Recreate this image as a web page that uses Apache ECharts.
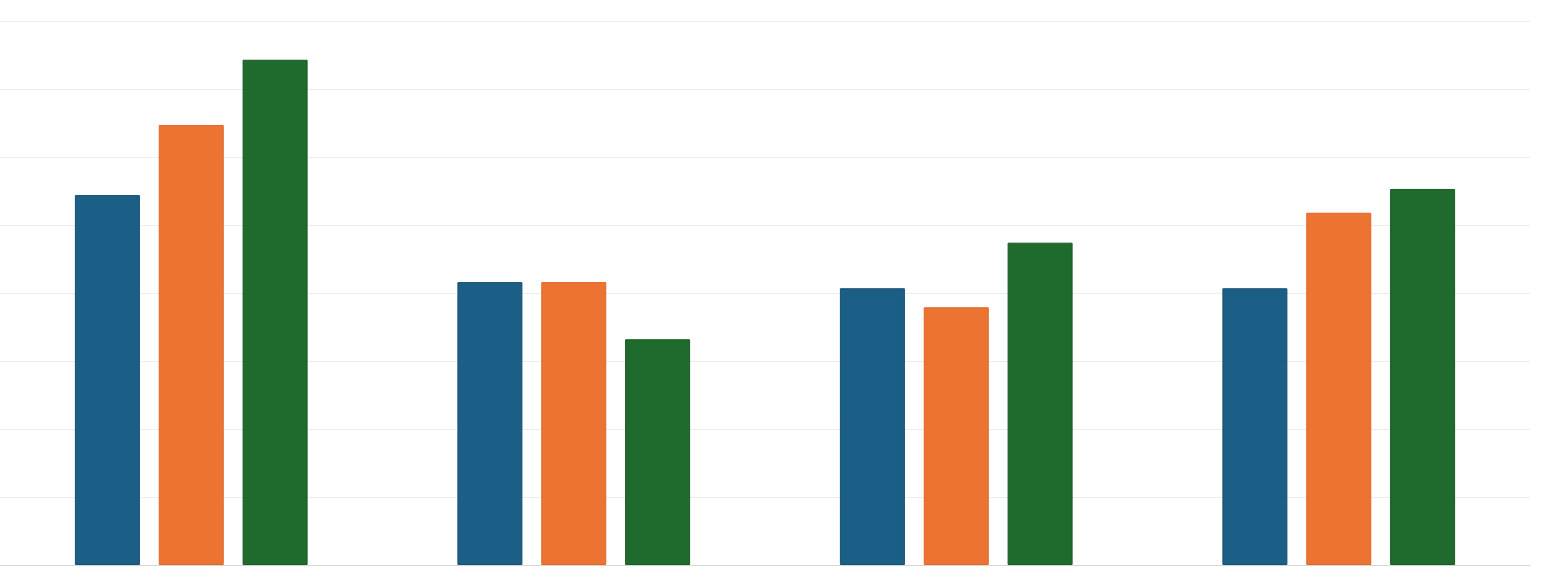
<!DOCTYPE html>
<html>
<head>
<meta charset="utf-8">
<script src="https://cdn.jsdelivr.net/npm/echarts@6/dist/echarts.min.js"></script>
<style>
  html, body { margin: 0; padding: 0; background: #fff; }
  #chart { width: 1544px; height: 579px; }
</style>
</head>
<body>
<div id="chart"></div>
<script>
// values (grid step = 1)
const categories = ['Group 1', 'Group 2', 'Group 3', 'Group 4'];
const blueValues = [5.44, 4.16, 4.07, 4.07];
const orangeValues = [6.47, 4.16, 3.79, 5.18];
const greenValues = [7.43, 3.32, 4.74, 5.53];

const chart = echarts.init(document.getElementById('chart'));

function barSeries(name, data, color, border) {
  return {
    name: name,
    type: 'bar',
    data: data,
    barWidth: 65,
    barGap: '29%',
    itemStyle: {
      color: color,
      borderColor: border,
      borderWidth: 1
    }
  };
}

chart.setOption({
  animation: false,
  grid: { left: 0, right: 14, top: 21, bottom: 14 },
  xAxis: {
    type: 'category',
    data: categories,
    axisLine: { lineStyle: { color: '#d6d6d6', width: 1 } },
    axisTick: { show: false },
    axisLabel: { show: false }
  },
  yAxis: {
    type: 'value',
    min: 0,
    max: 8,
    interval: 1,
    axisLine: { show: false },
    axisTick: { show: false },
    axisLabel: { show: false },
    splitLine: { lineStyle: { color: '#ececec', width: 1 } }
  },
  series: [
    barSeries('Series 1', blueValues, '#1b5f87', '#164f71'),
    barSeries('Series 2', orangeValues, '#ec7331', '#e0672a'),
    barSeries('Series 3', greenValues, '#1f6b2d', '#1a5a26')
  ]
});
</script>
</body>
</html>
